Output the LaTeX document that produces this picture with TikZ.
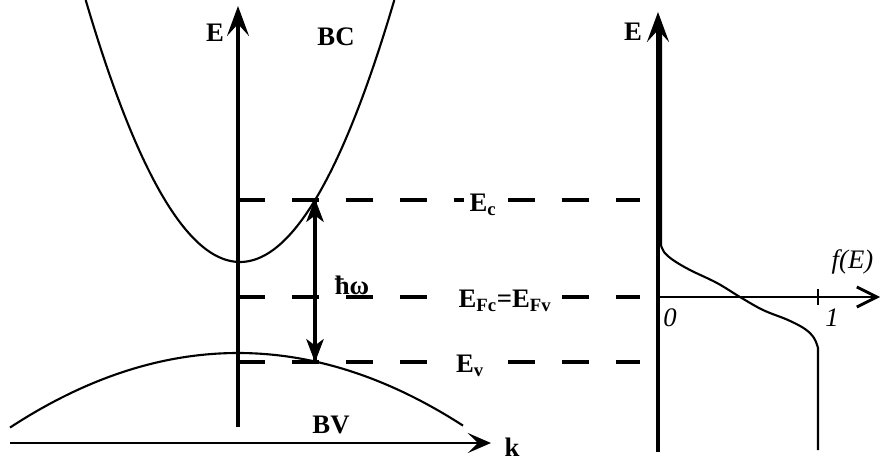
\documentclass[tikz,border=0pt]{standalone}
\usepackage{fontspec}
\setmainfont{Liberation Serif}
\usetikzlibrary{arrows.meta}
\begin{document}
\begin{tikzpicture}[x=0.025cm,y=-0.025cm,
  axis/.style={line width=2.4pt},
  bigtip/.style={-{Stealth[length=0.75cm,width=0.55cm,inset=0.3cm]}},
  curve/.style={line width=1.5pt},
  level/.style={line width=2.2pt,dash pattern=on 19.2pt off 19.2pt},
  headfill/.style={fill=black,draw=black,line width=0.6pt,line join=miter},
  lbl/.style={inner sep=1pt,font=\fontsize{19}{22}\selectfont\bfseries},
  lblw/.style={lbl,fill=white,inner xsep=4pt},
  ital/.style={inner sep=1pt,font=\fontsize{19}{22}\selectfont\itshape}]
\useasboundingbox (0,0) rectangle (880,461);
% ---------- left panel ----------
\coordinate (Ebot) at (238,427);
\coordinate (Etop) at (238,6);
\coordinate (kL) at (10,443);
\coordinate (kR) at (491,443);
\draw[axis,bigtip] (Ebot) -- (Etop);
\draw[line width=2pt,-{Stealth[length=0.58cm,width=0.5cm,inset=0.25cm]}] (kL) -- (kR);
\node[lbl] (Elab) at (215,33) {E};
\node[lbl] (klab) at (512,447) {k};
\node[lbl] (BC) at (336,37) {BC};
\node[lbl] (BV) at (331,425) {BV};
% bands
\draw[curve] plot[domain=85.7:394.3,samples=80,smooth] ({\x},{262-0.011*(\x-240)*(\x-240)});
\draw[curve] plot[domain=10:463,samples=80,smooth] ({\x},{353+0.00144*(\x-238)*(\x-238)});
% levels
\coordinate (EcL) at (238,200); \coordinate (EcR) at (640,200);
\coordinate (EfL) at (238,297); \coordinate (EfR) at (640,297);
\coordinate (EvL) at (238,362); \coordinate (EvR) at (640,362);
\draw[level] (EcL) -- (EcR);
\draw[level] (EfL) -- (EfR);
\draw[level] (EvL) -- (EvR);
\node[lblw] (Ec) at (483,205) {E\textsubscript{c}};
\node[lblw] (Ef) at (505,301) {E\textsubscript{Fc}=E\textsubscript{Fv}};
\node[lblw] (Ev) at (470,366) {E\textsubscript{v}};
% transition (double arrow)
\coordinate (tUp) at (315,200);
\coordinate (tDn) at (315,361);
\draw[line width=2.2pt] (tUp) -- (tDn);
\filldraw[headfill] (tUp) -- ++(-8,21) -- ++(8,-6) -- ++(8,6) -- cycle;
\filldraw[headfill] (tDn) -- ++(-8,-21) -- ++(8,6) -- ++(8,-6) -- cycle;
\node[lbl,anchor=base] (hw) at (352,294) {ħω};
% ---------- right panel ----------
\coordinate (FEbot) at (658,452);
\coordinate (FEtop) at (658,12);
\coordinate (fL) at (658,297);
\coordinate (fR) at (880,297);
\draw[axis,line width=2.2pt,bigtip] (FEbot) -- (FEtop);
\draw[line width=2pt,-{Straight Barb[length=0.5cm,width=0.5cm]}] (fL) -- (fR);
\node[lbl] (E2) at (633,32) {E};
\node[ital,anchor=west] (fE) at (830,262) {f(E)};
\node[ital] (zero) at (670,318) {0};
\node[ital] (one) at (832,318) {1};
\coordinate (t1a) at (818,289); \coordinate (t1b) at (818,305);
\draw[line width=2pt] (t1a) -- (t1b);
% Fermi function
\draw[curve] (661,30) -- (661,245)
  plot[smooth,tension=0.6] coordinates {(661,245) (664,252) (673,260) (690,270) (717,283) (740,297) (763,310) (788,320) (805,329) (814,338) (818,348)}
  -- (818,450);
\end{tikzpicture}
\end{document}
